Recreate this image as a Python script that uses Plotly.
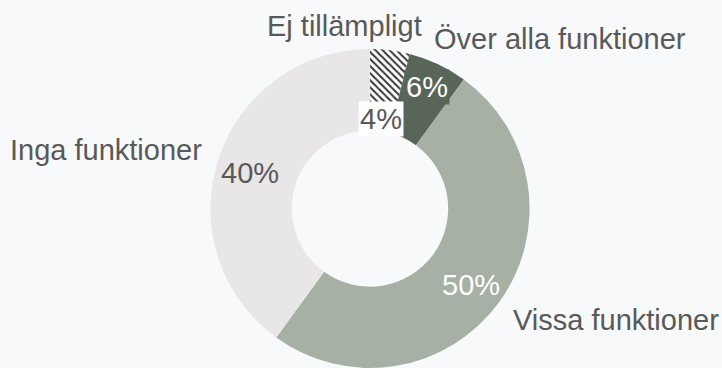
import plotly.graph_objects as go

# Survey answers, share of respondents (%)
categories = ["Ej tillämpligt", "Över alla funktioner", "Vissa funktioner", "Inga funktioner"]
shares = [4, 6, 50, 40]

slice_colors = ["#FFFFFF", "#5A6559", "#A6B0A4", "#E8E6E7"]
pattern_shapes = ["\\", "", "", ""]

TEXT = "#595959"
FONT = "Arial, Liberation Sans, sans-serif"
BG = "#F8F9FA"

fig = go.Figure(
    go.Pie(
        labels=categories,
        values=shares,
        sort=False,
        direction="clockwise",
        rotation=0,
        hole=0.49,
        textinfo="none",
        hoverinfo="label+percent",
        marker=dict(
            colors=slice_colors,
            line=dict(width=0),
            pattern=dict(
                shape=pattern_shapes,
                fgcolor="#333333",
                bgcolor="#FFFFFF",
                size=5,
                solidity=0.4,
            ),
        ),
        domain=dict(x=[0.2, 0.825], y=[0.0, 0.867]),
        showlegend=False,
    )
)

# Category names placed around the ring
name_pos = {
    "Ej tillämpligt": (344, 26),
    "Över alla funktioner": (560, 39),
    "Inga funktioner": (106, 150),
    "Vissa funktioner": (616, 320),
}
# Percentage labels: (x, y, text colour, box colour)
pct_pos = {
    "Ej tillämpligt": (381, 119, TEXT, "#FFFFFF"),
    "Över alla funktioner": (427, 87, "#FFFFFF", "#5A6559"),
    "Inga funktioner": (250, 173, TEXT, None),
    "Vissa funktioner": (471, 285, "#FFFFFF", None),
}

W, H = 722, 368
annotations = []
for cat, val in zip(categories, shares):
    x, y = name_pos[cat]
    annotations.append(dict(
        x=x / W, y=1 - y / H, xref="paper", yref="paper",
        xanchor="center", yanchor="middle", showarrow=False,
        text=cat, font=dict(family=FONT, size=29, color=TEXT),
    ))
    px, py, col, box = pct_pos[cat]
    ann = dict(
        x=px / W, y=1 - py / H, xref="paper", yref="paper",
        xanchor="center", yanchor="middle", showarrow=False,
        text=f"{val}%", font=dict(family=FONT, size=29, color=col),
    )
    if box:
        ann.update(bgcolor=box, borderpad=1)
    annotations.append(ann)

fig.update_layout(
    width=W, height=H,
    margin=dict(l=0, r=0, t=0, b=0),
    paper_bgcolor=BG,
    plot_bgcolor=BG,
    annotations=annotations,
)

fig.write_html("out.html")
